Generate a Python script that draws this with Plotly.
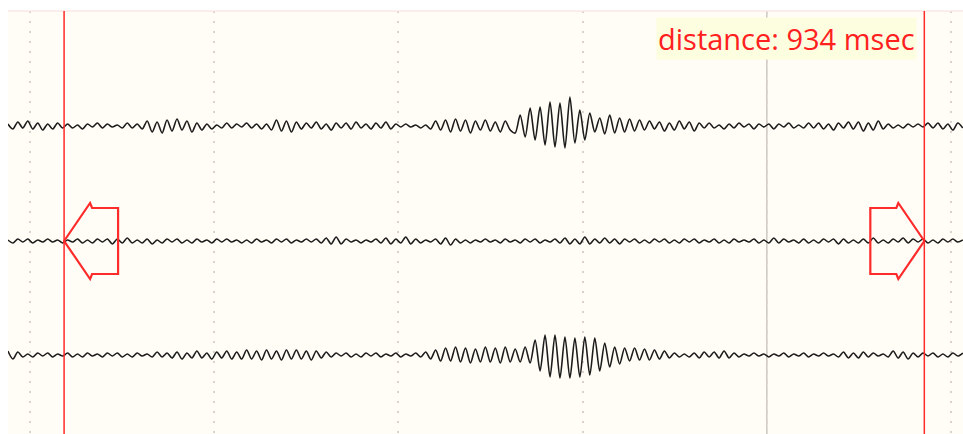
import plotly.graph_objects as go

# Sampling of the three channels (milliseconds)
T0 = -24.0
DT = 5.4

# Channel amplitudes (display units, positive = up)
ch1 = [2, -3, 4, -2, 5, -3, 3, -4, 2, -3, 3, -2,
       2, -2, 1, -3, 2, -1, 3, -2, 2, -1, 1, -2, 3, -2, 2, -3,
       5, -6, 4, -7, 6, -5, 7, -4, 5, -6, 3, -4,
       2, -3, 1, -2, 3, -2, 2, -1, 3, -2, 2, -3, 2,
       -4, 6, -5, 5, -6, 4, -3,
       3, -2, 4, -3, 2, -4, 3, -2, 3, -3, 4, -2, 2, -3, 3, -2, 4, -3, 2,
       -1, 2, -1, 1, -2, 1,
       -3, 5, -4, 6, -6, 7, -5, 6, -7, 5, -4, 6, -5, 4, -6, 5, -4, -7,
       11, -11, 18, -14, 19, -19, 24, -21, 23, -22, 29, -17, 16, -14, 13, -6, 8,
       -8, 11, -7, 8, -6, 7, -5, 6, -4, 5, -3,
       4, -5, 3, -4, 5, -3, 4, -5, 3,
       -2, 3, -2, 1, -3, 2, -2, 3, -1, 2, -3, 2,
       -1, 2, -3, 2, -1, 3, -2, 1, -2,
       3, -2, 3, -3, 2, -4, 3, -2, 4, -3,
       4, -5, 3, -4, 5, -3, 2,
       -2, 1, -2, 2, -1, 2, -1, 3, -2,
       3, -3, 2, -4, 3, -2]

ch2 = [1, -2, 2, -1, 2, -2, 1, -1, 2, -1, 1, -2, 1, -1, 2, -2, 1, -2, 2, -1,
       2, -3, 2, -2, 3, -2, 1, -2, 2, -3, 1, -2, 2, -1, 2, -2, 1, -2, 2, -1,
       1, -2, 2, -1, 2, -1, 1, -2, 1, -2, 2, -1, 1, -2, 2, -1, 2, -2, 1, -1,
       2, -1, 2, -2, 3, -3, 4, -3, 2, -1, 1, -2, 1, -1, 2, -2, 3, -3, 2, -2,
       4, -3, 2, -2, 1, -1, 2, -3, 3, -4, 2, -2, 1, -2, 1, -1, 2, -1, 1, -2,
       2, -1, 1, -2, 2, -1, 2, -2, 1, -1, 2, -2, 3, -3, 2, -3, 4, -3, 2, -2,
       3, -2, 2, -3, 2, -1, 2, -2, 1, -2, 2, -1, 2, -2, 1, -2, 2, -1, 2, -2,
       1, -1, 2, -2, 1, -2, 2, -1, 1, -1, 2, -2, 1, -2, 3, -2, 2, -1, 1, -2,
       2, -2, 1, -2, 2, -1, 2, -3, 2, -2, 1, -2, 2, -2, 3, -2, 1, -2, 2, -1,
       3, -2, 2, -1, 2, -2, 1, -2, 2, -1, 2, -1, 1]

ch3 = [4, -4, 3,
       -2, 1, -2, 2, -1, 2, -2, 1, -1, 2, -2, 1, -2, 2, -1, 1, -2, 2, -1, 2,
       -2, 1, -2, 2, -1, 1, -2, 3, -2, 2, -3,
       3, -4, 2, -3, 4, -3, 2, -4, 3, -3, 4, -4, 3,
       -4, 5, -4, 4, -5, 5, -4, 4, -5, 5, -4, 5, -4, 4, -5, 4, -3, 3,
       -2, 2, -1, 2, -2, 1, -2, 2, -1, 2, -2, 1, -1, 2, -2, 1, -1, 2, -2, 3,
       -4, 5, -6, 7, -6, 8, -7, 7, -8, 6, -7, 8, -7, 7, -8, 8, -7, 6, -7, 8, -8,
       15, -16, 20, -22, 20, -23, 18, -23, 17, -22, 18, -20, 17, -16, 12, -12, 8, -9,
       7, -6, 7, -5, 6, -5, 5, -4,
       4, -3, 2, -2, 1, -2, 2,
       -3, 3, -2, 3, -3, 4, -3, 2,
       -2, 1, -1, 2, -1, 1, -2, 1, -1, 2, -2, 1, -1, 2, -2, 1, -1, 2, -1, 1,
       -2, 3, -3, 2, -3, 3, -2, 2, -1, 1, -2,
       4, -3, 3, -4, 2,
       -2, 2, -1, 2, -2, 1, -2, 2, -1, 2]

channels = [ch1, ch2, ch3]
offsets = [0, -115, -229]

# Measurement cursors (msec)
cursor_a = 37
distance = 934
cursor_b = cursor_a + distance
marker_line = 800

X_RANGE = [-23.9, 1013.0]
Y_RANGE = [-308, 115]
PX_PER_MS = 955 / (X_RANGE[1] - X_RANGE[0])

RED = "#ff2a2a"

fig = go.Figure()
for vals, off in zip(channels, offsets):
    fig.add_trace(go.Scatter(
        x=[T0 + DT * i for i in range(len(vals))],
        y=[off + v for v in vals],
        mode="lines",
        line=dict(color="#1c1c1c", width=1.6, shape="spline", smoothing=0.8),
        hoverinfo="skip",
    ))


def arrow_path(tip_t, tip_y, direction):
    # direction = -1 points left, +1 points right; sizes given in pixels
    ms = 1 / PX_PER_MS
    def px(dx):
        return tip_t - direction * dx * ms
    pts = [
        (px(0), tip_y),
        (px(26), tip_y + 38),
        (px(28), tip_y + 33),
        (px(54), tip_y + 33),
        (px(54), tip_y - 33),
        (px(28), tip_y - 33),
        (px(26), tip_y - 38),
    ]
    return "M " + " L ".join(f"{x:.2f},{y:.2f}" for x, y in pts) + " Z"


shapes = [
    # solid marker line
    dict(type="line", xref="x", yref="paper", x0=marker_line, x1=marker_line,
         y0=0, y1=1, line=dict(color="#cbc9bf", width=1.5), layer="below"),
    # top border
    dict(type="line", xref="paper", yref="paper", x0=0, x1=1, y0=1, y1=1,
         line=dict(color="#fbe6e6", width=1.5)),
    # cursors
    dict(type="line", xref="x", yref="paper", x0=cursor_a, x1=cursor_a,
         y0=0, y1=1, line=dict(color=RED, width=1.5)),
    dict(type="line", xref="x", yref="paper", x0=cursor_b, x1=cursor_b,
         y0=0, y1=1, line=dict(color=RED, width=1.5)),
    dict(type="path", xref="x", yref="y", path=arrow_path(cursor_a, offsets[1], -1),
         line=dict(color=RED, width=2.2)),
    dict(type="path", xref="x", yref="y", path=arrow_path(cursor_b, offsets[1], 1),
         line=dict(color=RED, width=2.2)),
]

fig.update_layout(
    width=963, height=434,
    margin=dict(l=8, r=0, t=11, b=0),
    paper_bgcolor="#ffffff",
    plot_bgcolor="#fffdf5",
    showlegend=False,
    shapes=shapes,
    xaxis=dict(range=X_RANGE, showgrid=True, tick0=0, dtick=200,
               gridcolor="#dcd0cc", griddash="2px,8px", gridwidth=1.5,
               showticklabels=False, zeroline=False, ticks="", fixedrange=True),
    yaxis=dict(range=Y_RANGE, showgrid=False, zeroline=False,
               showticklabels=False, ticks="", fixedrange=True),
    annotations=[dict(
        text=f"distance: {distance} msec",
        xref="paper", yref="paper", x=0.815, y=0.934,
        xanchor="center", yanchor="middle", showarrow=False,
        font=dict(family="Open Sans, Noto Sans, sans-serif", size=29, color="#ff2020"),
        bgcolor="#fdfde0", borderpad=1,
    )],
)

fig.write_html("out.html")
